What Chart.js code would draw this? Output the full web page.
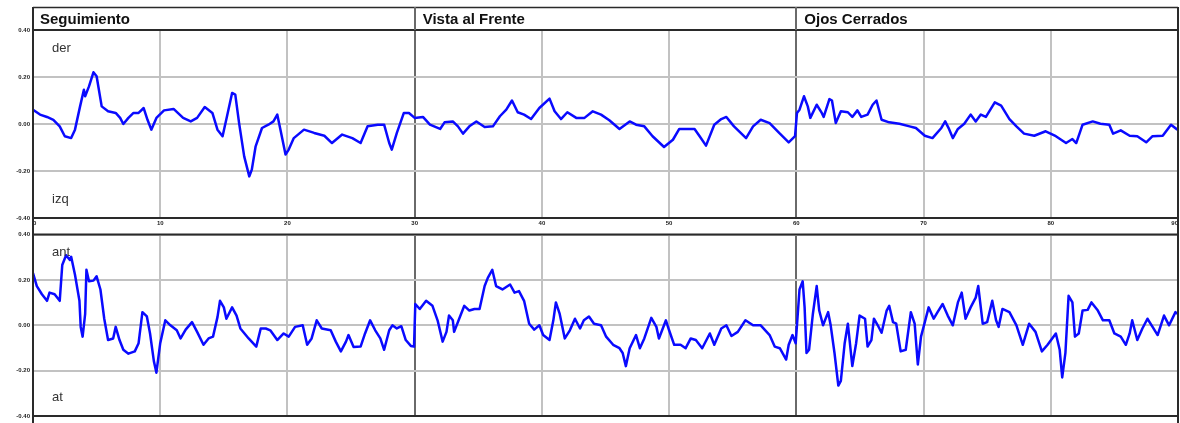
<!DOCTYPE html>
<html>
<head>
<meta charset="utf-8">
<script src="https://cdn.jsdelivr.net/npm/chart.js@4"></script>
<style>
  html, body { margin: 0; padding: 0; background: #fff; }
  body { width: 1180px; height: 423px; position: relative; overflow: hidden; }
  canvas { position: absolute; left: 0; }
  #top { top: 0; }
  #bottom { top: 228px; }
</style>
</head>
<body>
<canvas id="top" width="1180" height="228"></canvas>
<canvas id="bottom" width="1180" height="195"></canvas>
<script>
// Section titles and where each section begins on the time axis
const sections = ['Seguimiento', 'Vista al Frente', 'Ojos Cerrados'];
const sectionStarts = [0, 30, 60];

// Axis ticks
const xTicks = [0, 10, 20, 30, 40, 50, 60, 70, 80, 90];
const yTicks = [-0.4, -0.2, 0, 0.2, 0.4];

// Side labels of each panel
const topLabels = ['der', 'izq'];
const bottomLabels = ['ant', 'at'];

// Lateral sway (der / izq): time and value
const latT = [0,0.55,1.1,1.6,2.1,2.5,3.0,3.3,3.7,4.0,4.1,4.4,4.75,5.0,5.4,5.9,6.5,6.85,7.1,7.5,7.9,8.3,8.7,9.0,9.3,9.7,10.3,11.05,11.8,12.4,12.9,13.5,14.1,14.5,14.9,15.25,15.65,15.9,16.2,16.6,17.0,17.2,17.5,18.0,18.5,18.9,19.2,19.45,19.85,20.1,20.5,21.3,22.1,22.9,23.5,24.3,25.1,25.75,26.3,27.1,27.6,28.0,28.2,28.6,29.15,29.55,30.0,30.65,31.2,32.0,32.35,33.0,33.4,33.8,34.3,34.85,35.5,36.15,36.7,37.2,37.65,38.1,38.6,39.15,39.8,40.6,41.0,41.5,42.0,42.7,43.35,44.0,44.65,45.3,46.1,46.9,47.4,48.05,48.7,49.6,50.3,50.8,51.3,52.0,52.4,52.9,53.55,54.1,54.5,55.1,56.05,56.6,57.2,57.9,58.65,59.4,59.9,60.05,60.25,60.6,60.9,61.1,61.6,62.0,62.15,62.6,62.8,63.1,63.5,64.05,64.4,64.8,65.1,65.6,66.0,66.3,66.7,67.3,68.1,68.9,69.4,70.1,70.7,71.4,71.7,72.0,72.3,72.7,73.2,73.7,74.1,74.5,74.9,75.6,76.1,76.75,77.3,77.9,78.7,79.6,80.4,81.2,81.7,82.0,82.5,83.3,83.9,84.6,84.9,85.5,86.2,86.8,87.5,88.0,88.8,89.45,89.95];
const latV = [0.061,0.04,0.03,0.018,-0.01,-0.052,-0.06,-0.024,0.075,0.146,0.118,0.16,0.22,0.203,0.075,0.054,0.047,0.026,0.0,0.026,0.047,0.047,0.068,0.018,-0.024,0.026,0.058,0.064,0.026,0.011,0.026,0.072,0.047,-0.024,-0.052,0.033,0.132,0.125,0.004,-0.138,-0.223,-0.194,-0.095,-0.017,-0.003,0.011,0.04,-0.024,-0.13,-0.109,-0.06,-0.024,-0.038,-0.05,-0.081,-0.045,-0.06,-0.081,-0.01,-0.003,-0.003,-0.081,-0.109,-0.038,0.047,0.047,0.026,0.03,-0.003,-0.021,0.007,0.011,-0.01,-0.041,-0.01,0.011,-0.013,-0.01,0.033,0.061,0.1,0.05,0.04,0.021,0.068,0.108,0.054,0.021,0.05,0.026,0.026,0.054,0.04,0.016,-0.021,0.011,-0.003,-0.01,-0.052,-0.098,-0.067,-0.021,-0.021,-0.021,-0.052,-0.092,-0.003,0.021,0.03,-0.01,-0.06,-0.01,0.018,0.004,-0.038,-0.078,-0.052,0.047,0.061,0.118,0.075,0.026,0.082,0.047,0.03,0.106,0.1,0.004,0.054,0.05,0.03,0.058,0.03,0.04,0.082,0.1,0.018,0.007,0.001,-0.01,-0.017,-0.05,-0.06,-0.017,0.011,-0.021,-0.06,-0.021,0.001,0.04,0.011,0.04,0.03,0.092,0.078,0.021,-0.01,-0.041,-0.05,-0.031,-0.052,-0.081,-0.064,-0.081,-0.003,0.011,0.001,-0.003,-0.041,-0.027,-0.05,-0.052,-0.078,-0.052,-0.05,-0.003,-0.024];

// Antero-posterior sway (ant / at): time and value
const apT = [0,0.3,0.7,1.1,1.3,1.7,2.1,2.3,2.6,2.9,3.0,3.3,3.65,3.75,3.9,4.1,4.2,4.4,4.75,5.0,5.3,5.6,5.9,6.3,6.5,6.8,7.1,7.5,8.0,8.3,8.6,8.95,9.2,9.5,9.7,10.0,10.4,10.8,11.3,11.6,12.0,12.5,12.9,13.4,13.8,14.15,14.5,14.7,15.0,15.2,15.65,16.0,16.3,16.95,17.55,17.9,18.3,18.65,19.2,19.7,20.1,20.6,21.2,21.55,21.9,22.3,22.7,23.4,23.8,24.2,24.6,24.8,25.2,25.75,26.1,26.5,26.9,27.3,27.6,28.0,28.25,28.6,28.95,29.3,29.7,29.95,30.05,30.4,30.9,31.4,31.8,32.2,32.5,32.7,33.0,33.1,33.5,33.9,34.3,34.7,35.1,35.5,35.75,36.1,36.4,36.9,37.5,37.85,38.2,38.6,39.0,39.4,39.8,40.1,40.6,40.9,41.1,41.4,41.8,42.2,42.6,43.0,43.3,43.7,44.1,44.65,45.05,45.6,46.1,46.35,46.6,46.9,47.4,47.7,48.05,48.6,49.0,49.2,49.75,50.0,50.4,50.9,51.3,51.7,52.1,52.6,53.2,53.55,54.1,54.5,54.9,55.4,56.0,56.6,57.2,57.9,58.3,58.7,59.2,59.4,59.7,59.95,60.25,60.5,60.65,60.8,61.0,61.3,61.6,61.8,62.1,62.5,62.7,63.0,63.3,63.5,63.8,64.05,64.4,64.7,64.97,65.4,65.6,65.9,66.1,66.4,66.7,67.1,67.3,67.6,67.85,68.2,68.6,69.0,69.3,69.55,69.8,70.1,70.4,70.8,71.1,71.5,71.9,72.3,72.7,73.0,73.3,73.7,74.1,74.3,74.65,75.0,75.4,75.7,75.9,76.2,76.75,77.3,77.8,78.3,78.8,79.3,79.75,80.4,80.7,80.9,81.15,81.4,81.7,81.9,82.2,82.5,82.9,83.2,83.7,84.1,84.6,85.0,85.5,85.9,86.2,86.4,86.8,87.2,87.6,88.0,88.4,88.9,89.3,89.8,90.0];
const apV = [0.23,0.173,0.137,0.108,0.144,0.137,0.108,0.266,0.309,0.288,0.302,0.223,0.108,-0.007,-0.05,0.05,0.245,0.194,0.197,0.216,0.158,0.029,-0.065,-0.058,-0.007,-0.065,-0.108,-0.125,-0.115,-0.079,0.058,0.039,-0.036,-0.158,-0.209,-0.079,0.022,0.0,-0.022,-0.058,-0.019,0.014,-0.029,-0.086,-0.058,-0.05,0.036,0.108,0.079,0.029,0.079,0.043,-0.014,-0.058,-0.094,-0.014,-0.014,-0.022,-0.065,-0.036,-0.05,-0.007,0.0,-0.086,-0.058,0.022,-0.014,-0.022,-0.072,-0.115,-0.072,-0.043,-0.096,-0.094,-0.036,0.022,-0.022,-0.058,-0.108,-0.022,0.0,-0.014,-0.004,-0.065,-0.091,-0.094,0.094,0.072,0.108,0.086,0.022,-0.072,-0.029,0.043,0.022,-0.029,0.029,0.086,0.065,0.072,0.072,0.173,0.209,0.245,0.173,0.158,0.18,0.144,0.151,0.108,0.007,-0.019,0.0,-0.043,-0.065,0.022,0.101,0.05,-0.058,-0.022,0.029,-0.014,0.022,0.039,0.007,0.0,-0.05,-0.086,-0.101,-0.122,-0.18,-0.101,-0.043,-0.101,-0.058,0.033,-0.007,-0.058,0.022,-0.022,-0.086,-0.086,-0.101,-0.058,-0.065,-0.101,-0.036,-0.086,-0.014,0.0,-0.047,-0.029,0.022,0.0,0.0,-0.043,-0.094,-0.101,-0.151,-0.086,-0.043,-0.079,0.158,0.194,0.079,-0.122,-0.108,0.05,0.173,0.065,0.0,0.058,0.0,-0.122,-0.266,-0.245,-0.079,0.007,-0.18,-0.079,0.043,0.029,-0.094,-0.065,0.029,0.0,-0.033,0.065,0.086,0.014,0.007,-0.115,-0.108,0.058,0.007,-0.173,-0.05,0.014,0.079,0.029,0.058,0.094,0.043,0.0,0.101,0.144,0.029,0.079,0.122,0.173,0.007,0.014,0.108,0.022,-0.007,0.072,0.058,0.0,-0.086,0.007,-0.029,-0.115,-0.086,-0.036,-0.108,-0.23,-0.122,0.13,0.101,-0.05,-0.036,0.065,0.068,0.101,0.065,0.022,0.022,-0.036,-0.05,-0.086,-0.036,0.022,-0.065,-0.014,0.029,-0.007,-0.043,0.043,0.0,0.058,0.05];

const FONT = "'Liberation Sans', Arial, sans-serif";
const GRID = '#c2c2c2';
const DIVIDER = '#6a6a6a';
const FRAME = '#2a2a2a';

function points(ts, vs) {
  return ts.map((t, i) => ({ x: t, y: vs[i] }));
}

// Frame, section header and side labels drawn around the plot area
function framePlugin(withHeader, labels) {
  return {
    id: 'frame',
    afterDraw(chart) {
      const { ctx, chartArea: a, scales } = chart;
      const H = chart.height;
      const top = withHeader ? 7 : 0;
      ctx.save();
      ctx.strokeStyle = FRAME;
      ctx.lineWidth = 2;
      ctx.beginPath();
      // left and right edges over the full height
      ctx.moveTo(a.left, top); ctx.lineTo(a.left, H);
      ctx.moveTo(a.right, top); ctx.lineTo(a.right, H);
      // top edge of plot area
      ctx.moveTo(a.left, a.top); ctx.lineTo(a.right, a.top);
      ctx.stroke();
      if (withHeader) {
        ctx.lineWidth = 1.5;
        ctx.beginPath();
        ctx.moveTo(a.left, top + 0.5); ctx.lineTo(a.right, top + 0.5);
        ctx.stroke();
        // section dividers through the header
        ctx.strokeStyle = DIVIDER;
        ctx.lineWidth = 2;
        ctx.beginPath();
        sectionStarts.slice(1).forEach(s => {
          const x = Math.round(scales.x.getPixelForValue(s));
          ctx.moveTo(x, top); ctx.lineTo(x, a.top);
        });
        ctx.stroke();
        ctx.fillStyle = '#111';
        ctx.font = 'bold 15px ' + FONT;
        ctx.textBaseline = 'middle';
        ctx.textAlign = 'left';
        sectionStarts.forEach((s, i) => {
          const x = scales.x.getPixelForValue(s);
          ctx.fillText(sections[i], x + (i === 0 ? 7 : 8), (top + a.top) / 2 + 1);
        });
      }
      // side labels near the top and bottom of the panel
      ctx.fillStyle = '#333';
      ctx.font = '13px ' + FONT;
      ctx.textAlign = 'left';
      ctx.textBaseline = 'middle';
      const lx = a.left + 19;
      ctx.fillText(labels[0], lx, scales.y.getPixelForValue(0.32));
      ctx.fillText(labels[1], lx, scales.y.getPixelForValue(-0.32));
      ctx.restore();
    }
  };
}

function makeChart(id, ts, vs, opts) {
  const ctx = document.getElementById(id);
  return new Chart(ctx, {
    type: 'line',
    data: {
      datasets: [{
        data: points(ts, vs),
        borderColor: '#0a0aff',
        borderWidth: 2.5,
        borderJoinStyle: 'round',
        pointRadius: 0,
        tension: 0,
        fill: false
      }]
    },
    options: {
      responsive: false,
      animation: false,
      devicePixelRatio: 1,
      plugins: { legend: { display: false }, tooltip: { enabled: false } },
      layout: { padding: { top: opts.padTop, right: 2, left: 0, bottom: 0 } },
      scales: {
        x: {
          type: 'linear',
          min: 0, max: 90,
          afterBuildTicks: s => { s.ticks = xTicks.map(v => ({ value: v })); },
          afterFit: s => { s.height = opts.xHeight; },
          ticks: {
            display: opts.xLabels,
            maxRotation: 0, minRotation: 0,
            align: 'inner',
            padding: 2,
            color: '#222',
            font: { family: FONT, size: 6, weight: 'bold' },
            callback: v => String(v)
          },
          grid: {
            drawTicks: false,
            color: c => (sectionStarts.includes(c.tick && c.tick.value) && c.tick.value > 0) ? DIVIDER : GRID,
            lineWidth: 2
          },
          border: { display: true, color: FRAME, width: 2 }
        },
        y: {
          min: -0.4, max: 0.4,
          afterBuildTicks: s => { s.ticks = yTicks.map(v => ({ value: v })); },
          afterFit: s => { s.width = 33; },
          ticks: {
            padding: 3,
            color: '#222',
            font: { family: FONT, size: 6, weight: 'bold' },
            callback: v => v.toFixed(2)
          },
          grid: { drawTicks: false, color: GRID, lineWidth: 2 },
          border: { display: true, color: FRAME, width: 2 }
        }
      }
    },
    plugins: [framePlugin(opts.header, opts.labels)]
  });
}

makeChart('top', latT, latV, { padTop: 30, xHeight: 10, xLabels: true, header: true, labels: topLabels });
makeChart('bottom', apT, apV, { padTop: 1, xHeight: 7, xLabels: false, header: false, labels: bottomLabels });
</script>
</body>
</html>
